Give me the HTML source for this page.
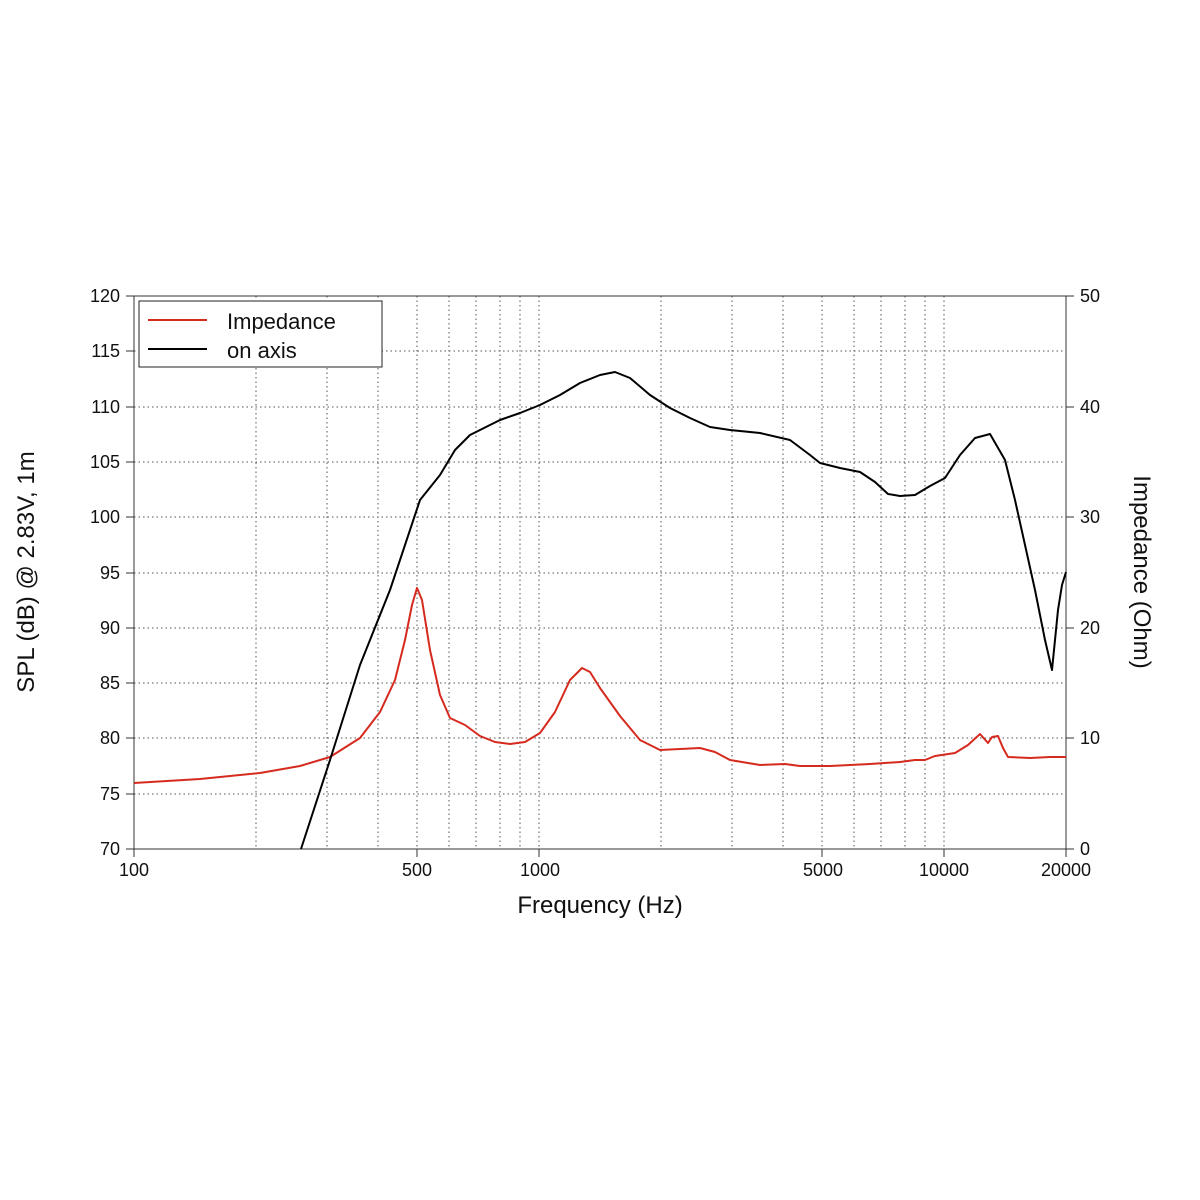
<!DOCTYPE html><html><head><style>body{margin:0;background:#fff}svg{display:block}text{font-family:"Liberation Sans",sans-serif;fill:#111}</style></head><body>
<svg width="1200" height="1200" viewBox="0 0 1200 1200">
<g stroke="#555" stroke-width="1" stroke-dasharray="1.5,3">
<line x1="256" y1="296" x2="256" y2="849"/><line x1="327" y1="296" x2="327" y2="849"/><line x1="378" y1="296" x2="378" y2="849"/><line x1="417" y1="296" x2="417" y2="849"/><line x1="449" y1="296" x2="449" y2="849"/><line x1="476" y1="296" x2="476" y2="849"/><line x1="500" y1="296" x2="500" y2="849"/><line x1="520" y1="296" x2="520" y2="849"/><line x1="539" y1="296" x2="539" y2="849"/>
<line x1="661" y1="296" x2="661" y2="849"/><line x1="732" y1="296" x2="732" y2="849"/><line x1="783" y1="296" x2="783" y2="849"/><line x1="822" y1="296" x2="822" y2="849"/><line x1="854" y1="296" x2="854" y2="849"/><line x1="881" y1="296" x2="881" y2="849"/><line x1="905" y1="296" x2="905" y2="849"/><line x1="925" y1="296" x2="925" y2="849"/><line x1="944" y1="296" x2="944" y2="849"/>
<line x1="134" y1="351" x2="1066" y2="351"/><line x1="134" y1="407" x2="1066" y2="407"/><line x1="134" y1="462" x2="1066" y2="462"/><line x1="134" y1="517" x2="1066" y2="517"/><line x1="134" y1="573" x2="1066" y2="573"/><line x1="134" y1="628" x2="1066" y2="628"/><line x1="134" y1="683" x2="1066" y2="683"/><line x1="134" y1="738" x2="1066" y2="738"/><line x1="134" y1="794" x2="1066" y2="794"/>
</g>
<rect x="134" y="296" width="932" height="553" fill="none" stroke="#333" stroke-width="1"/>
<g stroke="#333" stroke-width="1">
<path d="M126 296H134M126 351H134M126 407H134M126 462H134M126 517H134M126 573H134M126 628H134M126 683H134M126 738H134M126 794H134M126 849H134"/>
<path d="M1066 296H1074M1066 407H1074M1066 517H1074M1066 628H1074M1066 738H1074M1066 849H1074"/>
<path d="M134 849V857M417 849V857M539 849V857M822 849V857M944 849V857M1066 849V857"/>
</g>
<g font-size="18" text-anchor="end">
<text x="120" y="302">120</text><text x="120" y="357">115</text><text x="120" y="413">110</text><text x="120" y="468">105</text><text x="120" y="523">100</text><text x="120" y="579">95</text><text x="120" y="634">90</text><text x="120" y="689">85</text><text x="120" y="744">80</text><text x="120" y="800">75</text><text x="120" y="855">70</text>
</g>
<g font-size="18">
<text x="1080" y="302">50</text><text x="1080" y="413">40</text><text x="1080" y="523">30</text><text x="1080" y="634">20</text><text x="1080" y="744">10</text><text x="1080" y="855">0</text>
</g>
<g font-size="18" text-anchor="middle">
<text x="134" y="876">100</text><text x="417" y="876">500</text><text x="540" y="876">1000</text><text x="823" y="876">5000</text><text x="944" y="876">10000</text><text x="1066" y="876">20000</text>
</g>
<text x="600" y="913" font-size="24" text-anchor="middle">Frequency (Hz)</text>
<text transform="translate(34,572) rotate(-90)" font-size="24" text-anchor="middle">SPL (dB) @ 2.83V, 1m</text>
<text transform="translate(1134,572) rotate(90)" font-size="24" text-anchor="middle">Impedance (Ohm)</text>
<polyline fill="none" stroke="#d62a1e" stroke-width="2" stroke-linejoin="round" points="134,783 200,779 260,773 300,766 330,757 360,738 380,712 395,680 405,640 412,605 417,588 422,600 430,650 440,695 450,718 465,725 480,736 495,742 510,744 525,742 540,733 555,712 570,680 582,668 590,672 600,688 620,716 640,740 660,750 680,749 700,748 715,752 730,760 760,765 785,764 800,766 830,766 870,764 900,762 915,760 925,760 935,756 955,753 968,745 980,734 988,743 992,737 998,736 1003,748 1008,757 1030,758 1050,757 1066,757"/>
<polyline fill="none" stroke="#000" stroke-width="2" stroke-linejoin="round" points="301,849 330,760 360,665 390,590 420,500 440,475 455,450 470,435 480,430 500,420 520,413 540,405 560,395 580,383 600,375 615,372 630,378 650,395 670,408 690,418 710,427 730,430 760,433 790,440 810,455 820,463 840,468 860,472 875,482 888,494 900,496 915,495 930,486 945,478 960,455 975,438 990,434 1005,460 1015,500 1025,545 1035,590 1045,640 1052,670 1058,610 1062,585 1066,572"/>
<rect x="139" y="301" width="243" height="66" fill="#fff" stroke="#222" stroke-width="1"/>
<line x1="148" y1="320" x2="207" y2="320" stroke="#d62a1e" stroke-width="2"/>
<line x1="148" y1="349" x2="207" y2="349" stroke="#000" stroke-width="2"/>
<text x="227" y="329" font-size="22">Impedance</text>
<text x="227" y="358" font-size="22">on axis</text>
</svg></body></html>
